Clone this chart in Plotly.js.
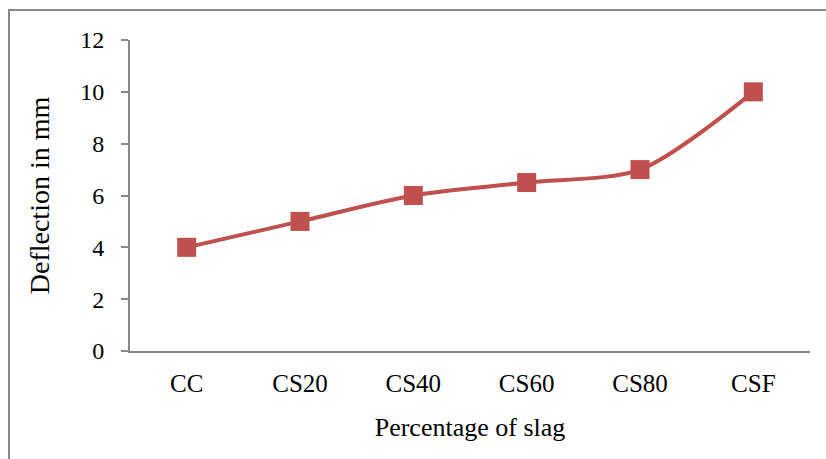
<!DOCTYPE html>
<html>
<head>
<meta charset="utf-8">
<script src="https://cdn.plot.ly/plotly-3.0.1.min.js"></script>
<style>
html,body{margin:0;padding:0;background:#fff;}
#wrap{position:relative;width:826px;height:459px;overflow:hidden;}
#chart{width:826px;height:459px;}
#frame{position:absolute;left:8px;top:9px;width:830px;height:460px;border-left:2px solid #888;border-top:2px solid #888;pointer-events:none;box-sizing:border-box;}
</style>
</head>
<body>
<div id="wrap"><div id="chart"></div><div id="frame"></div></div>
<script>
const categories = ["CC", "CS20", "CS40", "CS60", "CS80", "CSF"];
const deflection = [4, 5, 6, 6.5, 7, 10];
const yTicks = [0, 2, 4, 6, 8, 10, 12];

const font = "'Liberation Serif', 'Times New Roman', serif";
const trace = {
  x: categories,
  y: deflection,
  type: 'scatter',
  mode: 'lines+markers',
  line: {color: '#C0504D', width: 4, shape: 'spline', smoothing: 0.8},
  marker: {symbol: 'square', size: 19, color: '#C0504D', line: {width: 0}},
  hoverinfo: 'skip'
};
const layout = {
  width: 826, height: 459,
  margin: {l: 130, r: 16, t: 40, b: 108},
  paper_bgcolor: '#fff', plot_bgcolor: '#fff',
  showlegend: false,
  font: {family: font, color: '#000', size: 24},
  xaxis: {
    type: 'category',
    range: [-0.5, 5.5],
    showgrid: false, zeroline: false,
    showline: true, linecolor: '#888', linewidth: 2,
    ticks: '', ticklabelstandoff: 9,
    tickfont: {family: font, size: 25},
    title: {text: 'Percentage of slag', font: {family: font, size: 26}, standoff: 22}
  },
  yaxis: {
    range: [0, 12],
    tickvals: yTicks,
    showgrid: false, zeroline: false,
    showline: true, linecolor: '#888', linewidth: 2,
    ticks: 'outside', ticklen: 7, tickcolor: '#888', tickwidth: 2,
    ticklabelstandoff: 12,
    tickfont: {family: font, size: 24},
    title: {text: 'Deflection in mm', font: {family: font, size: 28}, standoff: 22}
  }
};
Plotly.newPlot('chart', [trace], layout, {displayModeBar: false, staticPlot: true});
</script>
</body>
</html>
